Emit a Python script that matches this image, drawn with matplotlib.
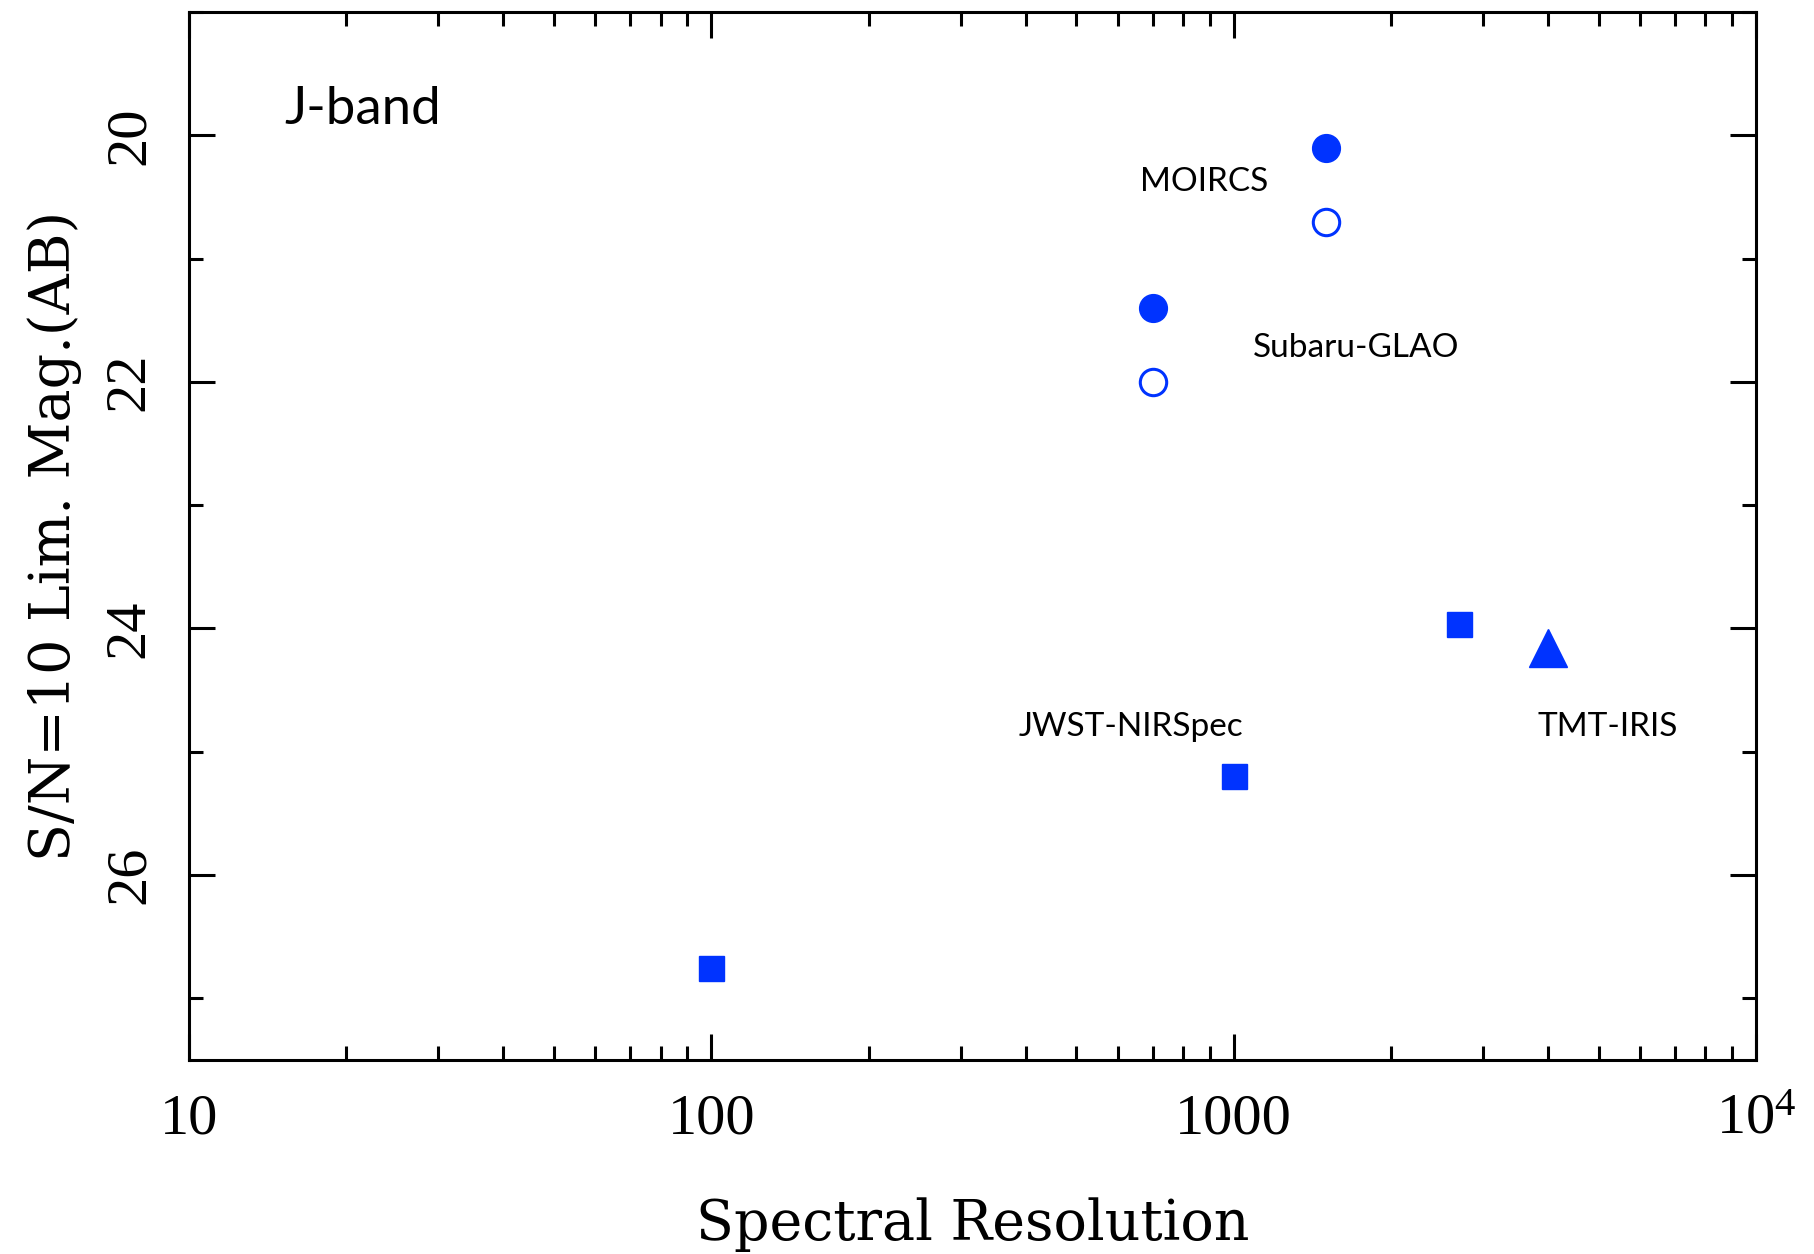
import matplotlib
matplotlib.use("Agg")
import matplotlib.pyplot as plt
from matplotlib.ticker import FixedLocator, FixedFormatter, MultipleLocator, NullFormatter

# Values
moircs_r = [1500, 1500]
moircs_mag = [20.10, 20.70]
glao_r = [700, 700]
glao_mag = [21.40, 22.00]
nirspec_r = [100, 1000, 2700]
nirspec_mag = [26.75, 25.20, 23.96]
iris_r = [4000]
iris_mag = [24.16]

x_ticks = [10, 100, 1000, 10000]
x_tick_labels = ["10", "100", "1000", r"$\mathregular{10^4}$"]
y_ticks = [20, 22, 24, 26]

labels = ["MOIRCS", "Subaru-GLAO", "JWST-NIRSpec", "TMT-IRIS"]
label_x = [662, 1087, 388, 3811]
label_y = [20.45, 21.80, 24.87, 24.87]

BLUE = "#0033ff"
SERIF = "Liberation Serif"
LABEL_FONT = "DejaVu Serif"
SANS = "Lato"

fig = plt.figure(figsize=(18.15, 12.54), dpi=100)
ax = fig.add_axes([0.1041, 0.1547, 0.8634, 0.8357])

ax.plot(moircs_r[:1], moircs_mag[:1], "o", ms=20, color=BLUE, mec=BLUE)
ax.plot(moircs_r[1:], moircs_mag[1:], "o", ms=19, mfc="white", mec=BLUE, mew=2.2)
ax.plot(glao_r[:1], glao_mag[:1], "o", ms=20, color=BLUE, mec=BLUE)
ax.plot(glao_r[1:], glao_mag[1:], "o", ms=19, mfc="white", mec=BLUE, mew=2.2)
ax.plot(nirspec_r, nirspec_mag, "s", ms=18, color=BLUE, mec=BLUE, ls="none")
ax.plot(iris_r, iris_mag, "^", ms=28, color=BLUE, mec=BLUE, ls="none")

for txt, tx, ty in zip(labels, label_x, label_y):
    ax.text(tx, ty, txt, fontsize=24, family=SANS, ha="left", va="baseline")
ax.text(15.2, 19.906, "J-band", fontsize=38, family=SANS, ha="left", va="baseline")

ax.set_xscale("log")
ax.set_xlim(10, 10000)
ax.set_ylim(27.5, 19.0)

ax.xaxis.set_major_locator(FixedLocator(x_ticks))
ax.xaxis.set_major_formatter(FixedFormatter(x_tick_labels))
ax.xaxis.set_minor_formatter(NullFormatter())
ax.yaxis.set_major_locator(FixedLocator(y_ticks))
ax.yaxis.set_minor_locator(MultipleLocator(1))

ax.tick_params(which="both", direction="in", top=True, right=True, width=2.2, color="black")
ax.tick_params(which="major", length=19, pad=24)
ax.tick_params(which="minor", length=10)
for lab in ax.get_xticklabels():
    lab.set_fontsize(42)
    lab.set_family(SERIF)
for lab in ax.get_yticklabels():
    lab.set_fontsize(42)
    lab.set_family(SERIF)
    lab.set_rotation(90)
    lab.set_va("center")

for sp in ax.spines.values():
    sp.set_linewidth(2.2)

ax.set_xlabel("Spectral Resolution", fontsize=40, family=LABEL_FONT, va="center")
ax.set_ylabel("S/N=10 Lim. Mag.(AB)", fontsize=40, family=LABEL_FONT, va="center")
ax.xaxis.set_label_coords(0.5, -0.157)
ax.yaxis.set_label_coords(-0.0855, 0.5)

fig.savefig("out.png", dpi=100)
